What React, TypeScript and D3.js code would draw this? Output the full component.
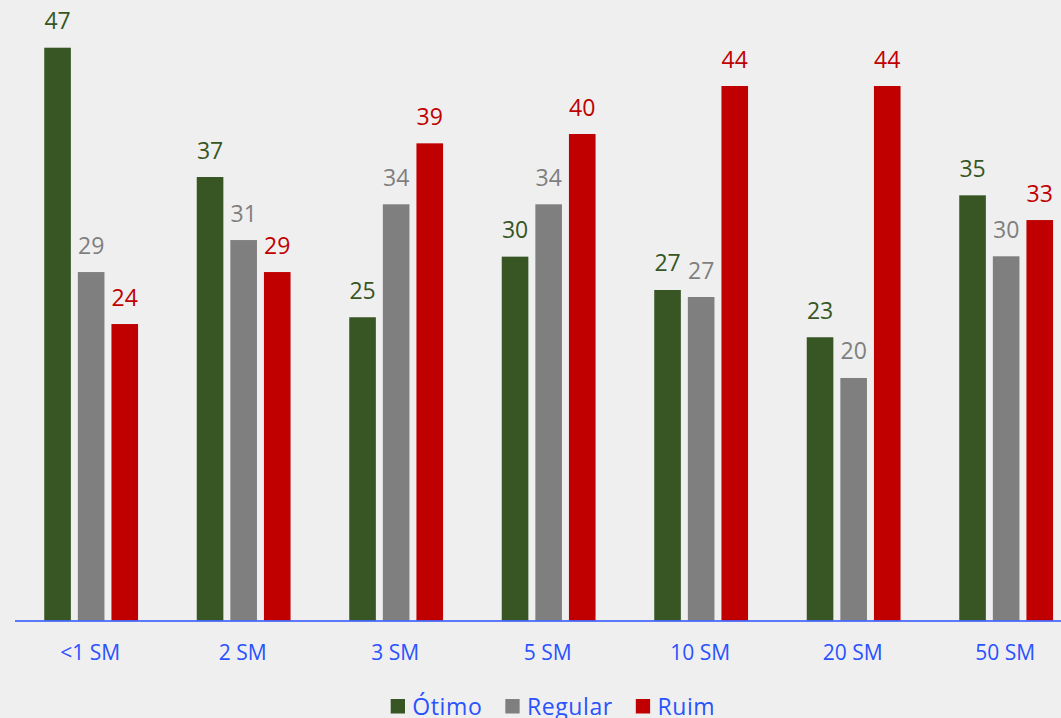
import React from "react";
import * as d3 from "d3";

const categories = ["<1 SM", "2 SM", "3 SM", "5 SM", "10 SM", "20 SM", "50 SM"];
const seriesNames = ["Ótimo", "Regular", "Ruim"];
const otimo = [47.26, 36.59, 25.02, 30.02, 27.27, 23.37, 35.08];
const regular = [28.75, 31.39, 34.34, 34.34, 26.69, 20.01, 30.05];
const ruim = [24.46, 28.75, 39.37, 40.14, 44.1, 44.1, 33.04];
const seriesColors = ["#375623", "#7f7f7f", "#c00000"];

const W = 1061;
const H = 718;
const FONT = "'Open Sans', 'Noto Sans', sans-serif";
const BLUE = "#2a52ff";

function measure(text: string, size: number, spacing: number): number {
  if (typeof document === "undefined") return text.length * size * 0.55;
  const c = document.createElement("canvas");
  const ctx = c.getContext("2d");
  if (!ctx) return text.length * size * 0.55;
  ctx.font = `${size}px 'Open Sans'`;
  return ctx.measureText(text).width + spacing * text.length;
}

export default function App() {
  const values = [otimo, regular, ruim];
  const baseY = 620.5;
  const y = d3.scaleLinear().domain([0, 50]).range([baseY, baseY - 50 * 12.12]);
  const x0 = d3.scaleBand<string>().domain(categories).range([15, 15 + 7 * 152.5]).padding(0);
  const x1 = d3
    .scaleBand<string>()
    .domain(seriesNames)
    .range([-47, 46.8])
    .paddingInner(0.208)
    .paddingOuter(0);

  const legendSize = 23;
  const legendSpacing = 0.6;
  let lx = 390.7;
  const legendItems = seriesNames.map((name, i) => {
    const item = { name, color: seriesColors[i], sx: lx, tx: lx + 14.3 + 7.3 };
    lx = item.tx + measure(name, legendSize, legendSpacing) + 23;
    return item;
  });

  return (
    <div style={{ position: "absolute", left: 0, top: 0 }}>
      <svg width={W} height={H} style={{ display: "block" }} fontFamily={FONT}>
        <rect x={0} y={0} width={W} height={H} fill="#efefef" />
        {categories.map((cat, ci) => {
          const cx = (x0(cat) as number) + x0.bandwidth() / 2;
          return (
            <g key={cat}>
              {seriesNames.map((s, si) => {
                const v = values[si][ci];
                const bx = cx + (x1(s) as number);
                const top = y(v);
                return (
                  <g key={s}>
                    <rect
                      x={bx}
                      y={top}
                      width={x1.bandwidth()}
                      height={baseY - top}
                      fill={seriesColors[si]}
                    />
                    <text
                      x={bx + x1.bandwidth() / 2}
                      y={top - 18.5}
                      textAnchor="middle"
                      fontSize={23}
                      fill={seriesColors[si]}
                    >
                      {Math.round(v)}
                    </text>
                  </g>
                );
              })}
              <text x={cx - 1} y={659.5} textAnchor="middle" fontSize={21} fill={BLUE}>
                {cat}
              </text>
            </g>
          );
        })}
        <line
          x1={x0.range()[0]}
          x2={x0.range()[1]}
          y1={baseY + 0.5}
          y2={baseY + 0.5}
          stroke={BLUE}
          strokeWidth={1.6}
        />
        {legendItems.map((it) => (
          <g key={it.name}>
            <rect x={it.sx} y={699} width={14.3} height={14.5} fill={it.color} />
            <text
              x={it.tx}
              y={715}
              fontSize={legendSize}
              letterSpacing={legendSpacing}
              fill={BLUE}
            >
              {it.name}
            </text>
          </g>
        ))}
      </svg>
    </div>
  );
}
